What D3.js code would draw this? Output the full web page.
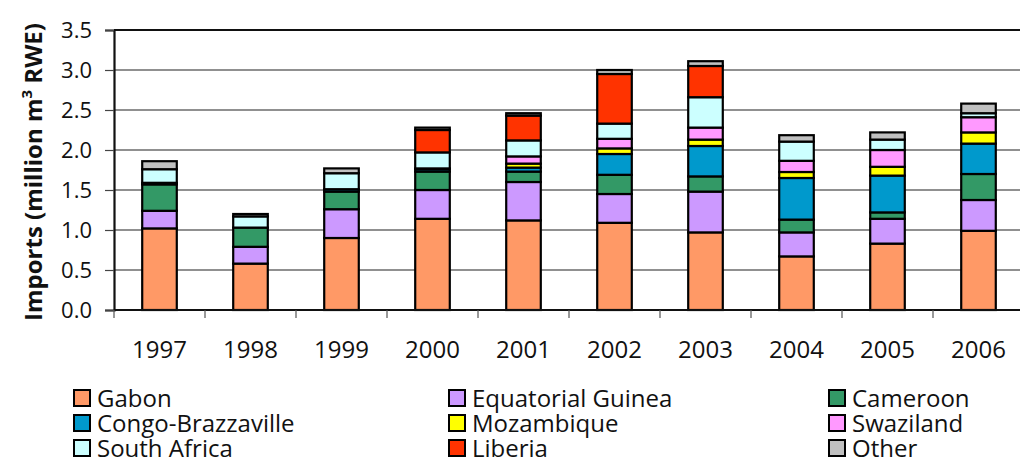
<!DOCTYPE html>
<html lang="en">
<head>
<meta charset="utf-8">
<title>Imports by origin</title>
<script src="https://d3js.org/d3.v7.min.js"></script>
<style>
  body { margin: 0; background: #fff; }
  text { font-family: "Open Sans", "Noto Sans", sans-serif; fill: #111; }
</style>
</head>
<body>
<script>
// data (million m3 RWE)
var years = ["1997", "1998", "1999", "2000", "2001", "2002", "2003", "2004", "2005", "2006"];
var countries = ["Gabon", "Equatorial Guinea", "Cameroon", "Congo-Brazzaville", "Mozambique",
                 "Swaziland", "South Africa", "Liberia", "Other"];
var gabon     = [1.02, 0.58, 0.90, 1.14, 1.12, 1.09, 0.97, 0.67, 0.83, 0.99];
var eqGuinea  = [0.22, 0.21, 0.36, 0.36, 0.48, 0.36, 0.51, 0.30, 0.31, 0.385];
var cameroon  = [0.33, 0.24, 0.22, 0.23, 0.13, 0.24, 0.19, 0.16, 0.08, 0.325];
var congo     = [0.00, 0.00, 0.03, 0.03, 0.05, 0.26, 0.38, 0.52, 0.46, 0.38];
var mozambique= [0.00, 0.00, 0.00, 0.00, 0.05, 0.07, 0.08, 0.075, 0.11, 0.14];
var swaziland = [0.02, 0.00, 0.00, 0.01, 0.09, 0.12, 0.15, 0.14, 0.21, 0.19];
var southAfrica=[0.17, 0.14, 0.20, 0.20, 0.20, 0.19, 0.38, 0.24, 0.13, 0.05];
var liberia   = [0.00, 0.00, 0.00, 0.28, 0.31, 0.62, 0.39, 0.00, 0.00, 0.00];
var other     = [0.10, 0.03, 0.06, 0.03, 0.03, 0.05, 0.06, 0.08, 0.09, 0.12];
var yTicks = [0, 0.5, 1, 1.5, 2, 2.5, 3, 3.5];

var colors = ["#ff9966", "#cc99ff", "#339966", "#0099cc", "#ffff00",
              "#ff99ff", "#ccffff", "#ff3300", "#c0c0c0"];
var series = [gabon, eqGuinea, cameroon, congo, mozambique, swaziland, southAfrica, liberia, other];

// rows for d3.stack
var rows = years.map(function(y, i) {
  var r = {year: y};
  countries.forEach(function(c, j) { r[c] = series[j][i]; });
  return r;
});

var w = 1020, h = 461;
var plotLeft = 114, plotTop = 30, plotBottom = 310;
var step = 91;
var plotRight = plotLeft + step * years.length;

var svg = d3.select("body").append("svg").attr("width", w).attr("height", h);

var xScale = d3.scaleBand().domain(years)
  .range([plotLeft, plotRight])
  .paddingInner(0.62).paddingOuter(0.31);
var yScale = d3.scaleLinear().domain([0, 3.5]).range([plotBottom, plotTop]);

// gridlines
svg.append("g").selectAll("line")
  .data(yTicks.filter(function(d) { return d > 0 && d < 3.5; }))
  .enter().append("line")
  .attr("x1", plotLeft).attr("x2", plotRight)
  .attr("y1", function(d) { return yScale(d); })
  .attr("y2", function(d) { return yScale(d); })
  .attr("stroke", "#222").attr("stroke-width", 1.2);

// top border of plot area
svg.append("line")
  .attr("x1", plotLeft).attr("x2", plotRight)
  .attr("y1", yScale(3.5)).attr("y2", yScale(3.5))
  .attr("stroke", "#111").attr("stroke-width", 2.2);

// bars
var stack = d3.stack().keys(countries);
var layers = stack(rows);

svg.append("g").selectAll("g")
  .data(layers)
  .enter().append("g")
  .attr("fill", function(d, i) { return colors[i]; })
  .selectAll("rect")
  .data(function(d) { return d.filter(function(s) { return s[1] - s[0] > 0; }); })
  .enter().append("rect")
  .attr("x", function(d) { return xScale(d.data.year); })
  .attr("width", xScale.bandwidth())
  .attr("y", function(d) { return yScale(d[1]); })
  .attr("height", function(d) { return yScale(d[0]) - yScale(d[1]); })
  .attr("stroke", "#000").attr("stroke-width", 2.2);

// y axis
var yAxis = d3.axisLeft(yScale).tickValues(yTicks).tickFormat(d3.format(".1f"))
  .tickSize(9).tickPadding(13);
var gy = svg.append("g").attr("transform", "translate(" + plotLeft + ",0)").call(yAxis);
gy.select(".domain").attr("stroke", "#111").attr("stroke-width", 2.2);
gy.selectAll(".tick line").attr("stroke", "#444").attr("stroke-width", 1.2);
gy.selectAll("text").attr("font-size", 22).attr("fill", "#111")
  .style("font-family", "'Open Sans', sans-serif");

// x axis: baseline, ticks at category boundaries, labels under bars
svg.append("line")
  .attr("x1", plotLeft).attr("x2", plotRight)
  .attr("y1", plotBottom).attr("y2", plotBottom)
  .attr("stroke", "#111").attr("stroke-width", 2.2);

svg.append("g").selectAll("line")
  .data(d3.range(years.length + 1))
  .enter().append("line")
  .attr("x1", function(i) { return plotLeft + i * step; })
  .attr("x2", function(i) { return plotLeft + i * step; })
  .attr("y1", plotBottom).attr("y2", plotBottom + 8)
  .attr("stroke", "#555").attr("stroke-width", 1.2);

svg.append("g").selectAll("text")
  .data(years)
  .enter().append("text")
  .attr("x", function(d) { return xScale(d) + xScale.bandwidth() / 2; })
  .attr("y", 358)
  .attr("text-anchor", "middle")
  .attr("font-size", 24)
  .text(function(d) { return d; });

// y axis title
var title = svg.append("text")
  .attr("transform", "translate(42," + ((plotTop + plotBottom) / 2 + 2) + ") rotate(-90)")
  .attr("text-anchor", "middle")
  .attr("font-size", 24)
  .attr("font-weight", "bold");
title.append("tspan").text("Imports (million m");
title.append("tspan").attr("font-size", 15).attr("dy", -10).text("3");
title.append("tspan").attr("dy", 10).text(" RWE)");

// legend, 3 x 3
var legX = [73, 448, 828];
var legY = [407, 432, 457];
var leg = svg.append("g").selectAll("g")
  .data(countries)
  .enter().append("g")
  .attr("transform", function(d, i) {
    return "translate(" + legX[i % 3] + "," + legY[Math.floor(i / 3)] + ")";
  });
leg.append("rect")
  .attr("x", 1).attr("y", -17).attr("width", 16).attr("height", 16)
  .attr("fill", function(d, i) { return colors[i]; })
  .attr("stroke", "#000").attr("stroke-width", 2);
leg.append("text")
  .attr("x", 24).attr("y", 0)
  .attr("font-size", 24)
  .text(function(d) { return d; });
</script>
</body>
</html>
